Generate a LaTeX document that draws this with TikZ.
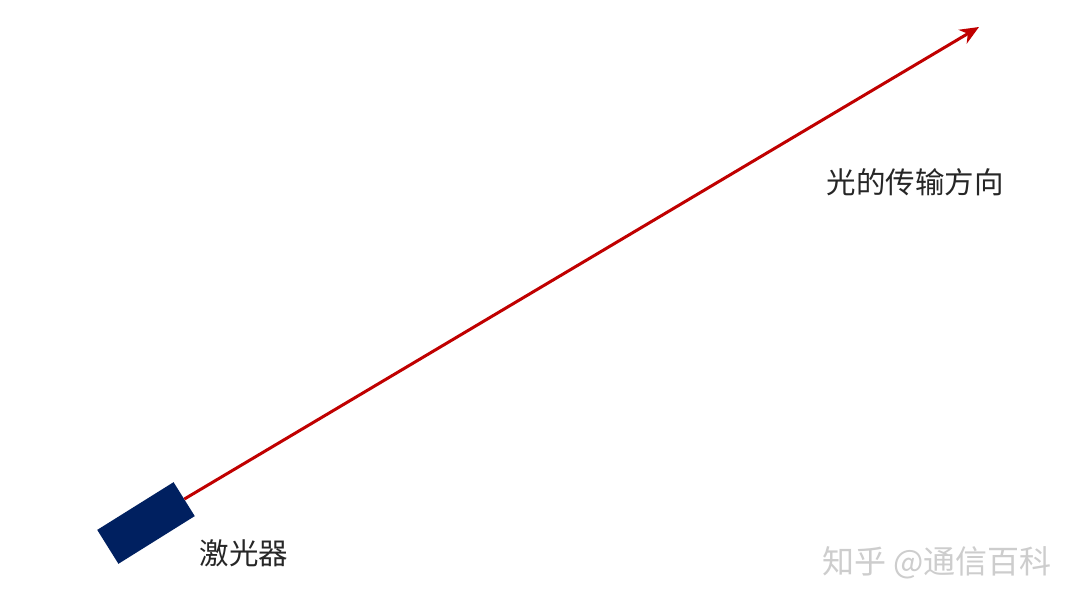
\documentclass[tikz,border=0pt]{standalone}
\usepackage{fontspec}
\newfontfamily\cjk{Noto Sans CJK SC}
\usetikzlibrary{arrows.meta}
\definecolor{beam}{RGB}{192,0,0}
\definecolor{navy}{RGB}{0,32,96}
\definecolor{wm}{RGB}{205,205,205}
\tikzset{
  laserbox/.style={fill=navy, draw=none, minimum width=90pt, minimum height=40pt, rotate=32, inner sep=0pt},
  lbl/.style={font=\cjk\fontsize{29.5}{32}\selectfont, text=black!85, inner sep=0pt},
  beamline/.style={draw=beam, line width=3pt, -{Stealth[length=19pt,width=16pt,inset=6pt]}},
}
\begin{document}
\begin{tikzpicture}[x=1pt,y=-1pt]
\useasboundingbox[fill=white] (0,0) rectangle (1080,607);
\node[laserbox] (laser) at (146,523) {};
\coordinate (tip) at (979,27);
\draw[beamline] (laser.east) -- (tip);
\node[lbl] (dir) at (915,182) {光的传输方向};
\node[lbl] (lname) at (244,553) {激光器};
\node[lbl, text=wm, font=\cjk\fontsize{32}{34}\selectfont] (mark) at (937,563) {知乎 @通信百科};
\end{tikzpicture}
\end{document}
